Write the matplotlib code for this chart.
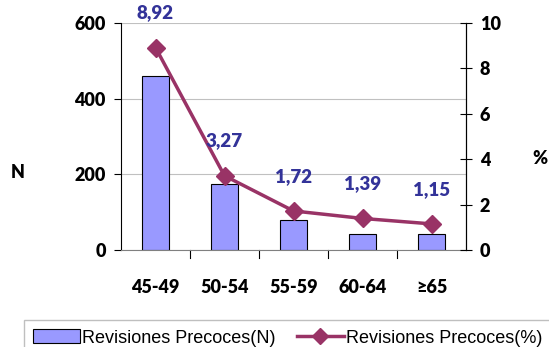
import matplotlib
matplotlib.use("Agg")
import matplotlib.pyplot as plt
from matplotlib.lines import Line2D
from matplotlib.patches import Patch
from matplotlib.font_manager import FontProperties

# ── Data ──
categories = ["45-49", "50-54", "55-59", "60-64", "≥65"]
revisiones_n = [460, 175, 80, 43, 43]
revisiones_pct = [8.92, 3.27, 1.72, 1.39, 1.15]
pct_labels = ["8,92", "3,27", "1,72", "1,39", "1,15"]

bar_color = "#9999FF"
line_color = "#993366"
label_color = "#333399"
tick_font = dict(family="Lato", weight="heavy", size=13)

fig = plt.figure(figsize=(5.49, 3.47), dpi=100)
ax = fig.add_axes([121 / 549, 1 - 250 / 347, 345 / 549, 227 / 347])
ax2 = ax.twinx()

x = range(len(categories))
ax.bar(x, revisiones_n, width=0.4, color=bar_color, edgecolor="black", linewidth=0.8, zorder=2)
ax.set_xlim(-0.5, len(categories) - 0.5)
ax.set_ylim(0, 600)
ax.set_yticks([0, 200, 400, 600])
ax.grid(True, axis="y", color="#c0c0c0", linewidth=0.8, zorder=0)
ax.set_axisbelow(True)

ax2.plot(x, revisiones_pct, color=line_color, lw=2.5, marker="D", ms=9, zorder=3)
ax2.set_ylim(0, 10)
ax2.set_yticks(range(0, 11, 2))
for xi, v, s in zip(x, revisiones_pct, pct_labels):
    ax2.annotate(s, (xi, v), textcoords="offset points", xytext=(0, 25),
                 ha="center", va="center", color=label_color,
                 family="Lato", weight="heavy", size=13.5, annotation_clip=False)

# category ticks between bars
ax.set_xticks([])
for i in range(len(categories) - 1):
    ax.plot([i + 0.5, i + 0.5], [0, -0.035], transform=ax.get_xaxis_transform(),
            color="black", lw=0.8, clip_on=False)
for i, c in enumerate(categories):
    ax.text(i, -0.165, c, transform=ax.get_xaxis_transform(), ha="center", va="center",
            **tick_font)

for a in (ax, ax2):
    a.spines["top"].set_visible(False)
ax.spines["bottom"].set_color("#808080")
ax.spines["left"].set_color("black")
ax2.spines["right"].set_color("black")
ax2.spines["left"].set_visible(False)
ax2.spines["bottom"].set_visible(False)
ax.tick_params(axis="y", direction="out", length=5, width=0.8, pad=6)
ax2.tick_params(axis="y", direction="inout", length=8, width=0.8, pad=6)
for lab in ax.get_yticklabels() + ax2.get_yticklabels():
    lab.set_fontproperties(FontProperties(**tick_font))

fig.text(18 / 549, 1 - 172 / 347, "N", ha="center", va="center", **tick_font)
fig.text(540 / 549, 1 - 158 / 347, "%", ha="center", va="center", **tick_font)

handles = [
    Patch(facecolor=bar_color, edgecolor="black", linewidth=0.8),
    Line2D([0], [0], color=line_color, lw=2.5, marker="D", ms=8),
]
leg = fig.legend(handles, ["Revisiones Precoces(N)", "Revisiones Precoces(%)"],
                 loc="lower left", bbox_to_anchor=(24 / 549, -0.025), ncol=2,
                 frameon=True, fancybox=False, edgecolor="#b0b0b0",
                 prop=dict(family="Liberation Sans", size=13),
                 handlelength=2.6, handleheight=0.8, handletextpad=0.1,
                 columnspacing=1.2, borderpad=0.5, borderaxespad=0)
leg.get_frame().set_linewidth(1.0)

fig.savefig("out.png", dpi=100)
